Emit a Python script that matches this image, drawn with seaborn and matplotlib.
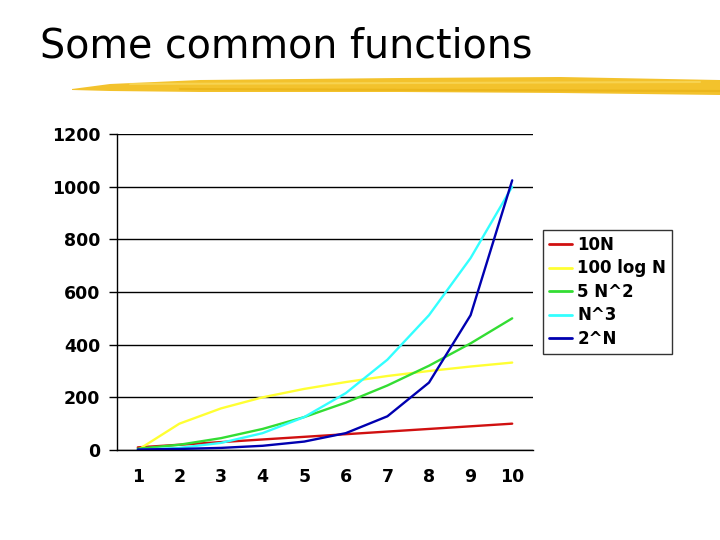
import pandas as pd
import seaborn as sns
import matplotlib.pyplot as plt
from matplotlib.lines import Line2D
from matplotlib.patches import Polygon

n_values = [1, 2, 3, 4, 5, 6, 7, 8, 9, 10]
ten_n = [10, 20, 30, 40, 50, 60, 70, 80, 90, 100]
hundred_log_n = [0, 100, 158, 200, 232, 258, 281, 300, 317, 332]
five_n_sq = [5, 20, 45, 80, 125, 180, 245, 320, 405, 500]
n_cubed = [1, 8, 27, 64, 125, 216, 343, 512, 729, 1000]
two_pow_n = [2, 4, 8, 16, 32, 64, 128, 256, 512, 1024]

series_names = ["10N", "100 log N", "5 N^2", "N^3", "2^N"]
series_colors = ["#D01010", "#FFFF33", "#33DD33", "#33FFFF", "#0000B0"]

frames = []
for name, vals in zip(series_names, [ten_n, hundred_log_n, five_n_sq, n_cubed, two_pow_n]):
    frames.append(pd.DataFrame({"N": n_values, "value": vals, "function": name}))
data = pd.concat(frames, ignore_index=True)

sns.set_style("white")
plt.rcParams["font.family"] = ["DejaVu Sans"]
plt.rcParams["text.color"] = "black"
plt.rcParams["xtick.color"] = "black"
plt.rcParams["ytick.color"] = "black"

W, H = 720, 540
fig = plt.figure(figsize=(7.2, 5.4), dpi=100)
ax = fig.add_axes([117 / W, 1 - 450 / H, (533 - 117) / W, (450 - 134) / H])

sns.lineplot(data=data, x="N", y="value", hue="function", hue_order=series_names,
             palette=series_colors, linewidth=1.7, ax=ax, legend=False)

ax.set_xlim(0.5, 10.5)
ax.set_ylim(0, 1200)
ax.set_yticks(range(0, 1201, 200))
ax.set_xticks(n_values)
ax.set_xticks([x + 0.5 for x in range(0, 11)], minor=True)
ax.tick_params(axis="x", which="major", length=0, pad=13)
ax.tick_params(axis="x", which="minor", length=6, width=1, direction="out", color="black")
ax.tick_params(axis="y", length=6, width=1, direction="out", color="black", left=True, pad=6)
for lab in ax.get_xticklabels() + ax.get_yticklabels():
    lab.set_fontweight("bold")
    lab.set_fontsize(12.5)
    lab.set_color("black")
ax.set_xlabel("")
ax.set_ylabel("")
ax.grid(axis="y", color="black", linewidth=1)
ax.set_axisbelow(True)
for side in ["top", "right"]:
    ax.spines[side].set_visible(False)
for side in ["left", "bottom"]:
    ax.spines[side].set_color("black")
    ax.spines[side].set_linewidth(1)

handles = [Line2D([0], [0], color=c, linewidth=2) for c in series_colors]
leg = fig.legend(handles, series_names, loc="upper left", bbox_to_anchor=(543 / W, 1 - 230 / H),
                 borderaxespad=0, frameon=True, fancybox=False, handlelength=1.4, handletextpad=0.3,
                 borderpad=0.35, labelspacing=0.33, prop={"weight": "bold", "size": 12})
leg.get_frame().set_edgecolor("black")
leg.get_frame().set_linewidth(1)
for t in leg.get_texts():
    t.set_color("black")

fig.text(40 / W, 1 - 58 / H, "Some common functions", fontsize=28.5, ha="left", va="baseline",
         color="black")

# yellow brush stroke under the title
def px(x, y):
    return (x / W, 1 - y / H)

stroke = Polygon([px(72, 89), px(110, 84), px(200, 80), px(400, 78), px(560, 77), px(720, 80),
                  px(720, 95), px(560, 93), px(400, 92), px(200, 92), px(110, 91), px(72, 90)],
                 closed=True, facecolor="#F3C22C", edgecolor="none", transform=fig.transFigure)
fig.add_artist(stroke)
for (x0, y0, x1, y1, col, lw) in [(130, 84, 700, 82, "#F7D350", 1.5), (180, 89, 720, 91, "#EBB61C", 1.5)]:
    fig.add_artist(Line2D([x0 / W, x1 / W], [1 - y0 / H, 1 - y1 / H], color=col, linewidth=lw))

fig.savefig("out.png", dpi=100)
